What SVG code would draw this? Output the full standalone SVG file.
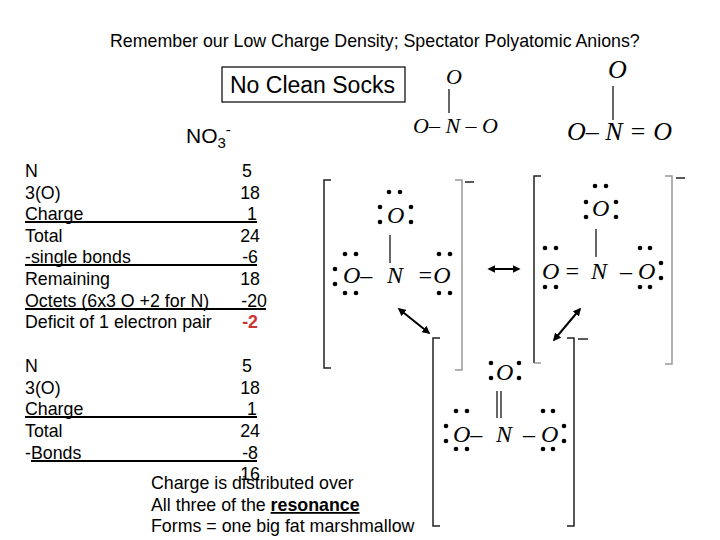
<svg xmlns="http://www.w3.org/2000/svg" width="720" height="540" viewBox="0 0 720 540">
<defs>
<style>
.t{font-family:"Liberation Sans",Arial,sans-serif;font-size:17.8px;fill:#000}
.m{font-family:"Liberation Serif","Times New Roman",serif;font-style:italic;font-size:24px;fill:#000}
.u{stroke:#000;stroke-width:2}
.b{fill:none;stroke:#222;stroke-width:1.5}
.g{fill:none;stroke:#999;stroke-width:1.5}
.bond{stroke:#000;stroke-width:1.2}
.arr{stroke:#000;stroke-width:2;marker-start:url(#ah);marker-end:url(#ah)}
</style>
<marker id="ah" viewBox="0 0 10 10" refX="8" refY="5" markerWidth="4" markerHeight="4" orient="auto-start-reverse"><path d="M0,0L10,5L0,10z" fill="#000"/></marker>
</defs>
<rect width="720" height="540" fill="#fff"/>
<text class="t" x="110" y="47">Remember our Low Charge Density; Spectator Polyatomic Anions?</text>
<g id="box"><rect x="222" y="67" width="183" height="35" fill="#fff" stroke="#000" stroke-width="1.2"/><text class="t" x="230" y="93" style="font-size:23px">No Clean Socks</text></g>
<text class="t" x="186" y="143" style="font-size:21px">NO<tspan font-size="15" dy="5">3</tspan><tspan font-size="15" dy="-13">-</tspan></text>
<g id="top1"><text class="m" x="446" y="84" style="font-size:22px">O</text><line class="bond" x1="449" y1="89" x2="449" y2="113"/><text class="m" x="413" y="133" style="font-size:22px">O– N – O</text></g>
<g id="top2"><text class="m" x="608" y="78" style="font-size:26px">O</text><line class="bond" x1="613" y1="86" x2="613" y2="120"/><text class="m" x="567" y="140" style="font-size:26px">O– N = O</text></g>
<g id="table1" class="t">
<text x="25" y="177">N</text><text x="25" y="199">3(O)</text><text x="25" y="220">Charge</text><text x="25" y="242">Total</text><text x="25" y="263">-single bonds</text><text x="25" y="285">Remaining</text><text x="25" y="307">Octets (6x3 O  +2 for N)</text><text x="25" y="328">Deficit of 1 electron pair</text>
<g text-anchor="end"><text x="252" y="177">5</text><text x="260" y="199">18</text><text x="257" y="220">1</text><text x="260" y="242">24</text><text x="258" y="263">-6</text><text x="260" y="285">18</text><text x="267" y="307">-20</text><text x="258" y="328" fill="#c33" font-weight="bold">-2</text></g>
<line class="u" x1="25" y1="222" x2="257" y2="222"/><line class="u" x1="25" y1="265" x2="257" y2="265"/><line class="u" x1="25" y1="309" x2="266" y2="309"/>
</g>
<g id="table2" class="t">
<text x="25" y="372">N</text><text x="25" y="394">3(O)</text><text x="25" y="415">Charge</text><text x="25" y="437">Total</text><text x="25" y="459">-Bonds</text>
<g text-anchor="end"><text x="252" y="372">5</text><text x="260" y="394">18</text><text x="257" y="415">1</text><text x="260" y="437">24</text><text x="258" y="459">-8</text><text x="260" y="480">16</text></g>
<line class="u" x1="25" y1="417" x2="257" y2="417"/><line class="u" x1="31" y1="461" x2="257" y2="461"/>
</g>
<g id="note" class="t"><text x="151" y="489">Charge is distributed over</text><text x="151" y="511">All three of the <tspan font-weight="bold" text-decoration="underline">resonance</tspan></text><text x="151" y="532">Forms = one big fat marshmallow</text></g>
<g id="brackets">
<path class="b" d="M331,180H324V368H331"/><path class="g" d="M455,180H462V370H455"/><line x1="465" y1="182" x2="474" y2="182" stroke="#222" stroke-width="1.5"/>
<path class="b" d="M541,176H534V363"/><path class="g" d="M534,363H541"/><path class="g" d="M665,176H672V364H665"/><line x1="676" y1="178" x2="685" y2="178" stroke="#222" stroke-width="1.5"/>
<path class="b" d="M440,338H433V526H440"/><path class="b" d="M567,338H574V526H567"/><line x1="578" y1="339" x2="588" y2="339" stroke="#222" stroke-width="1.5"/>
</g>
<g id="s1">
<text class="m" x="387" y="223">O</text><line class="bond" x1="390" y1="235" x2="390" y2="263"/>
<text class="m" x="343" y="283">O–</text><text class="m" x="387" y="283">N</text><text class="m" x="417" y="283">=O</text>
<g fill="#000"><circle cx="389" cy="192" r="2.3"/><circle cx="400" cy="192" r="2.3"/><circle cx="380" cy="207" r="2.3"/><circle cx="380" cy="222" r="2.3"/><circle cx="411" cy="207" r="2.3"/><circle cx="411" cy="222" r="2.3"/>
<circle cx="345" cy="254" r="2.3"/><circle cx="356" cy="254" r="2.3"/><circle cx="335" cy="269" r="2.3"/><circle cx="335" cy="284" r="2.3"/><circle cx="345" cy="293" r="2.3"/><circle cx="356" cy="293" r="2.3"/>
<circle cx="439" cy="254" r="2.3"/><circle cx="450" cy="254" r="2.3"/><circle cx="439" cy="293" r="2.3"/><circle cx="450" cy="293" r="2.3"/></g>
</g>
<g id="s2">
<text class="m" x="592" y="216">O</text><line class="bond" x1="596" y1="229" x2="596" y2="257"/>
<text class="m" x="542" y="279">O</text><text class="m" x="564" y="279">=</text><text class="m" x="591" y="279">N</text><text class="m" x="620" y="279">– O</text>
<g fill="#000"><circle cx="595" cy="186" r="2.3"/><circle cx="606" cy="186" r="2.3"/><circle cx="586" cy="202" r="2.3"/><circle cx="586" cy="217" r="2.3"/><circle cx="616" cy="202" r="2.3"/><circle cx="616" cy="217" r="2.3"/>
<circle cx="545" cy="248" r="2.3"/><circle cx="556" cy="248" r="2.3"/><circle cx="545" cy="287" r="2.3"/><circle cx="556" cy="287" r="2.3"/>
<circle cx="640" cy="248" r="2.3"/><circle cx="650" cy="248" r="2.3"/><circle cx="661" cy="263" r="2.3"/><circle cx="661" cy="278" r="2.3"/><circle cx="640" cy="287" r="2.3"/><circle cx="650" cy="287" r="2.3"/></g>
</g>
<g id="s3">
<text class="m" x="496" y="380">O</text><line class="bond" x1="497" y1="391" x2="497" y2="418"/><line class="bond" x1="501" y1="391" x2="501" y2="418"/>
<text class="m" x="453" y="442">O–</text><text class="m" x="496" y="442">N</text><text class="m" x="523" y="442">– O</text>
<g fill="#000"><circle cx="491" cy="363" r="2.3"/><circle cx="491" cy="378" r="2.3"/><circle cx="519" cy="363" r="2.3"/><circle cx="519" cy="378" r="2.3"/>
<circle cx="456" cy="411" r="2.3"/><circle cx="467" cy="411" r="2.3"/><circle cx="446" cy="426" r="2.3"/><circle cx="446" cy="441" r="2.3"/><circle cx="456" cy="449" r="2.3"/><circle cx="467" cy="449" r="2.3"/>
<circle cx="543" cy="411" r="2.3"/><circle cx="553" cy="411" r="2.3"/><circle cx="564" cy="426" r="2.3"/><circle cx="564" cy="441" r="2.3"/><circle cx="543" cy="449" r="2.3"/><circle cx="553" cy="449" r="2.3"/></g>
</g>
<g id="connectors">
<line class="arr" x1="489" y1="269" x2="519" y2="269"/>
<line class="arr" x1="399" y1="309" x2="429" y2="333"/>
<line class="arr" x1="580" y1="309" x2="554" y2="340"/>
</g>
</svg>
